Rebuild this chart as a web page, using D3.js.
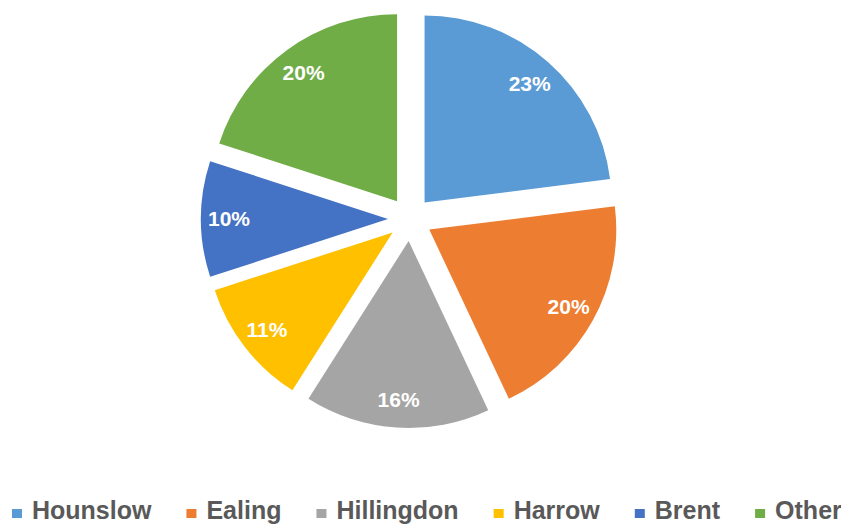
<!DOCTYPE html>
<html>
<head>
<meta charset="utf-8">
<script src="https://cdn.jsdelivr.net/npm/d3@7"></script>
<style>
  body { margin: 0; background: #fff; }
  svg { display: block; }
</style>
</head>
<body>
<svg id="chart" width="841" height="524"></svg>
<script>
const boroughs = ['Hounslow', 'Ealing', 'Hillingdon', 'Harrow', 'Brent', 'Other'];
const shares = [23, 20, 16, 11, 10, 20];
const colours = ['#5B9BD5', '#ED7D31', '#A5A5A5', '#FFC000', '#4472C4', '#70AD47'];

const svg = d3.select('#chart');
const cx = 410, cy = 219, radius = 187, explode = 22, labelR = 159;

const color = d3.scaleOrdinal().domain(boroughs).range(colours);

const pie = d3.pie().sort(null).value(d => d.value);
const arcs = pie(boroughs.map((name, i) => ({ name, value: shares[i] })));

const arc = d3.arc().innerRadius(0).outerRadius(radius);
const labelArc = d3.arc().innerRadius(labelR).outerRadius(labelR);

const g = svg.append('g').attr('transform', `translate(${cx},${cy})`);

const slices = g.selectAll('g.slice')
  .data(arcs)
  .join('g')
  .attr('class', 'slice')
  .attr('transform', d => {
    const mid = (d.startAngle + d.endAngle) / 2;
    return `translate(${Math.sin(mid) * explode},${-Math.cos(mid) * explode})`;
  });

slices.append('path')
  .attr('d', arc)
  .attr('fill', d => color(d.data.name));

slices.append('text')
  .attr('transform', d => `translate(${labelArc.centroid(d)})`)
  .attr('text-anchor', 'middle')
  .attr('dy', '0.35em')
  .attr('fill', '#fff')
  .style('font-family', '"Liberation Sans", Arial, sans-serif')
  .style('font-weight', 'bold')
  .style('font-size', '21px')
  .text(d => d.data.value + '%');

// legend along the bottom
const legend = svg.append('g');
let x = 12;
boroughs.forEach(name => {
  const item = legend.append('g').attr('transform', `translate(${x},0)`);
  item.append('rect')
    .attr('x', 0).attr('y', 509)
    .attr('width', 10).attr('height', 9)
    .attr('fill', color(name));
  const t = item.append('text')
    .attr('x', 20).attr('y', 519)
    .attr('fill', '#595959')
    .style('font-family', '"Liberation Sans", Arial, sans-serif')
    .style('font-weight', 'bold')
    .style('font-size', '25px')
    .text(name);
  x += 20 + t.node().getComputedTextLength() + 35;
});
</script>
</body>
</html>
